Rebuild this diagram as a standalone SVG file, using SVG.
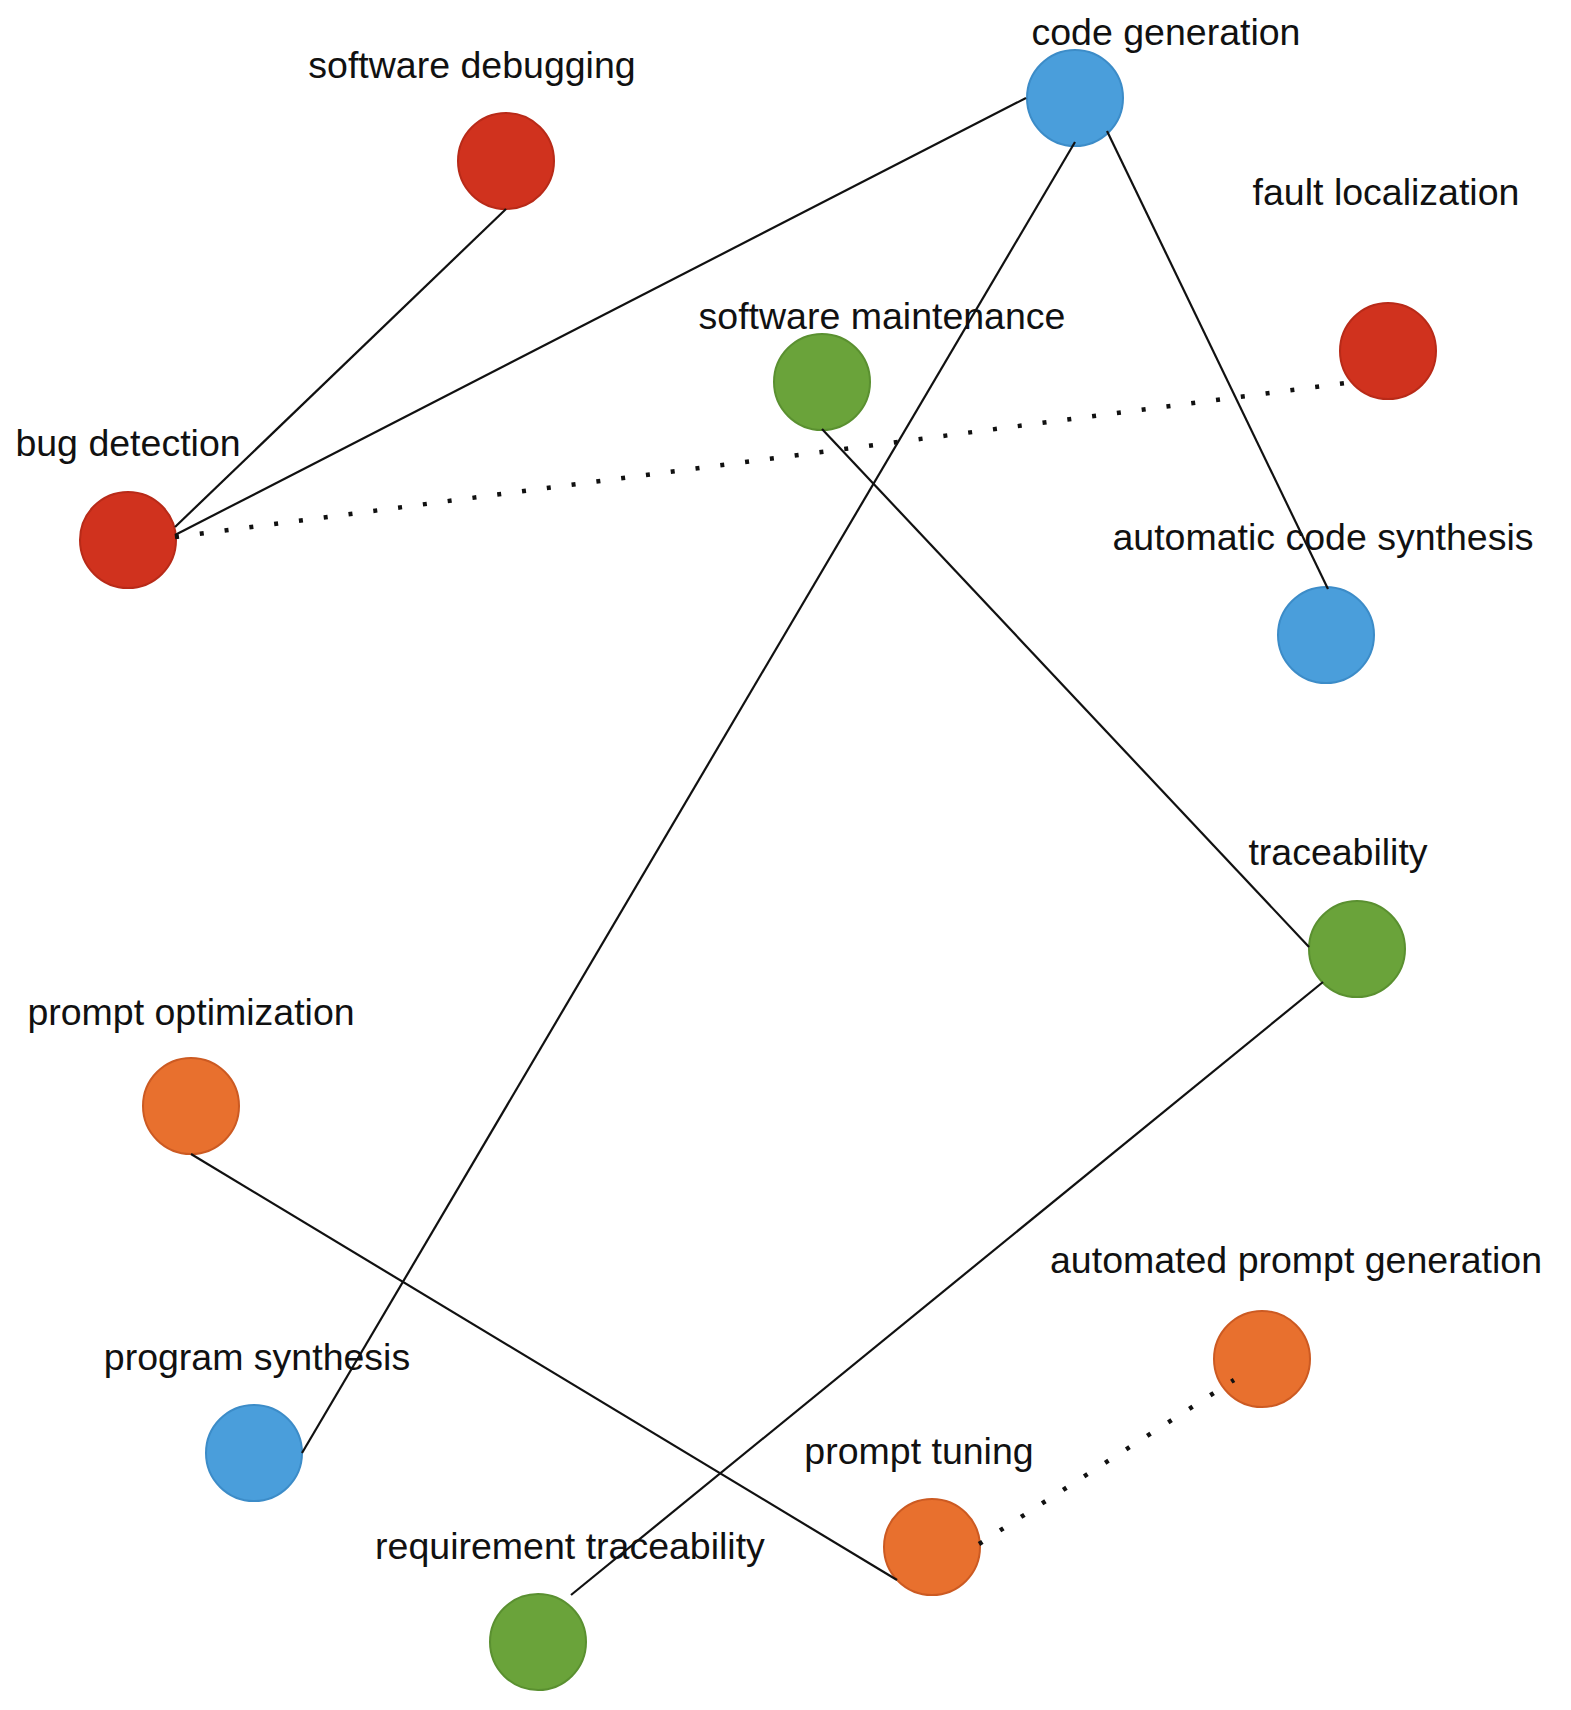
<svg xmlns="http://www.w3.org/2000/svg" width="1571" height="1710" viewBox="0 0 1571 1710">
<style>
text{font-family:"Liberation Sans",Arial,sans-serif;font-size:37.5px;fill:#111;text-anchor:middle}
.r{fill:#d0321e;stroke:#b82a18;stroke-width:2}
.b{fill:#4a9edb;stroke:#3c8cc8;stroke-width:2}
.g{fill:#6aa33a;stroke:#5a9030;stroke-width:2}
.o{fill:#e8702e;stroke:#cc5a22;stroke-width:2}
.e{stroke:#111;stroke-width:2.2;fill:none}
.d{stroke:#111;stroke-width:4.5;fill:none;stroke-dasharray:4 21}
</style>
<rect width="1571" height="1710" fill="#fff"/>
<g id="n-code-generation"><circle class="b" cx="1075" cy="98" r="48"/><text x="1166" y="45">code generation</text></g>
<g id="n-software-debugging"><circle class="r" cx="506" cy="161" r="48"/><text x="472" y="78">software debugging</text></g>
<g id="n-fault-localization"><circle class="r" cx="1388" cy="351" r="48"/><text x="1386" y="205">fault localization</text></g>
<g id="n-software-maintenance"><circle class="g" cx="822" cy="382" r="48"/><text x="882" y="329">software maintenance</text></g>
<g id="n-bug-detection"><circle class="r" cx="128" cy="540" r="48"/><text x="128" y="456">bug detection</text></g>
<g id="n-automatic-code-synthesis"><circle class="b" cx="1326" cy="635" r="48"/><text x="1323" y="550">automatic code synthesis</text></g>
<g id="n-traceability"><circle class="g" cx="1357" cy="949" r="48"/><text x="1338" y="865">traceability</text></g>
<g id="n-prompt-optimization"><circle class="o" cx="191" cy="1106" r="48"/><text x="191" y="1025">prompt optimization</text></g>
<g id="n-automated-prompt-generation"><circle class="o" cx="1262" cy="1359" r="48"/><text x="1296" y="1273">automated prompt generation</text></g>
<g id="n-program-synthesis"><circle class="b" cx="254" cy="1453" r="48"/><text x="257" y="1370">program synthesis</text></g>
<g id="n-prompt-tuning"><circle class="o" cx="932" cy="1547" r="48"/><text x="919" y="1464">prompt tuning</text></g>
<g id="n-requirement-traceability"><circle class="g" cx="538" cy="1642" r="48"/><text x="570" y="1559">requirement traceability</text></g>
<g id="connectors">
<line class="e" x1="175" y1="527" x2="506" y2="209"/>
<line class="e" x1="175" y1="535" x2="1026" y2="98"/>
<line class="d" x1="175" y1="537" x2="1353" y2="382"/>
<line class="e" x1="1075" y1="142" x2="302" y2="1453"/>
<line class="e" x1="1107" y1="131" x2="1328" y2="589"/>
<line class="e" x1="822" y1="429" x2="1309" y2="947"/>
<line class="e" x1="1323" y1="982" x2="571" y2="1595"/>
<line class="e" x1="191" y1="1154" x2="897" y2="1580"/>
<line class="d" x1="979" y1="1544" x2="1234" y2="1380"/>
</g>
</svg>
